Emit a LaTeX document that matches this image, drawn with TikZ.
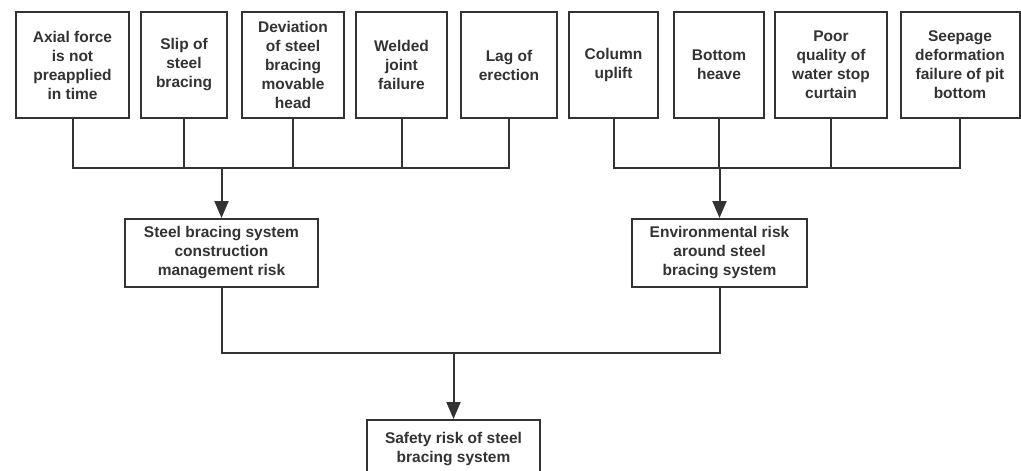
\documentclass[tikz,border=0pt]{standalone}
\usepackage{fontspec}
\setmainfont{Liberation Sans}
\usetikzlibrary{arrows.meta}
\definecolor{ink}{HTML}{333333}
\begin{document}
\begin{tikzpicture}[x=1pt,y=-1pt,
  box/.style={draw=ink, line width=2pt, fill=white, inner sep=0pt, align=center,
    text=ink, font=\fontsize{15.5}{19}\selectfont\bfseries},
  link/.style={draw=ink, line width=2pt},
  arr/.style={link, -{Triangle[length=17pt,width=14pt]}}]
\useasboundingbox (0,0) rectangle (1021,471);
\clip (0,0) rectangle (1021,471);
% top row: causes
\node[box, minimum width=113, minimum height=106] (t1) at (72.5,65) {Axial force\\is not\\preapplied\\in time};
\node[box, minimum width=86, minimum height=106] (t2) at (184,65) {Slip of\\steel\\bracing};
\node[box, minimum width=102, minimum height=106] (t3) at (293,65) {Deviation\\of steel\\bracing\\movable\\head};
\node[box, minimum width=91, minimum height=106] (t4) at (401.5,65) {Welded\\joint\\failure};
\node[box, minimum width=96, minimum height=106] (t5) at (509,65) {Lag of\\erection};
\node[box, minimum width=89, minimum height=106] (t6) at (613.5,65) {Column\\uplift};
\node[box, minimum width=90, minimum height=106] (t7) at (719,65) {Bottom\\heave};
\node[box, minimum width=112, minimum height=106] (t8) at (831,65) {Poor\\quality of\\water stop\\curtain};
\node[box, minimum width=119, minimum height=106] (t9) at (960,65) {Seepage\\deformation\\failure of pit\\bottom};
% middle row: risk categories
\node[box, minimum width=193, minimum height=68] (m1) at (221.5,253) {Steel bracing system\\construction\\management risk};
\node[box, minimum width=175, minimum height=68] (m2) at (719.5,253) {Environmental risk\\around steel\\bracing system};
% bottom: overall risk
\node[box, minimum width=173, minimum height=58] (b) at (453.5,449) {Safety risk of steel\\bracing system};
% bus joints
\coordinate (busL) at (m1.north |- 0,168);
\coordinate (busR) at (m2.north |- 0,168);
\coordinate (busB) at (b.north |- 0,353);
\foreach \n in {t1,t2,t3,t4,t5} \draw[link] (\n.south) |- (busL);
\foreach \n in {t6,t7,t8,t9} \draw[link] (\n.south) |- (busR);
\draw[arr] (busL) -- (m1.north);
\draw[arr] (busR) -- (m2.north);
\draw[link] (m1.south) |- (busB);
\draw[link] (m2.south) |- (busB);
\draw[arr] (busB) -- (b.north);
\end{tikzpicture}
\end{document}
